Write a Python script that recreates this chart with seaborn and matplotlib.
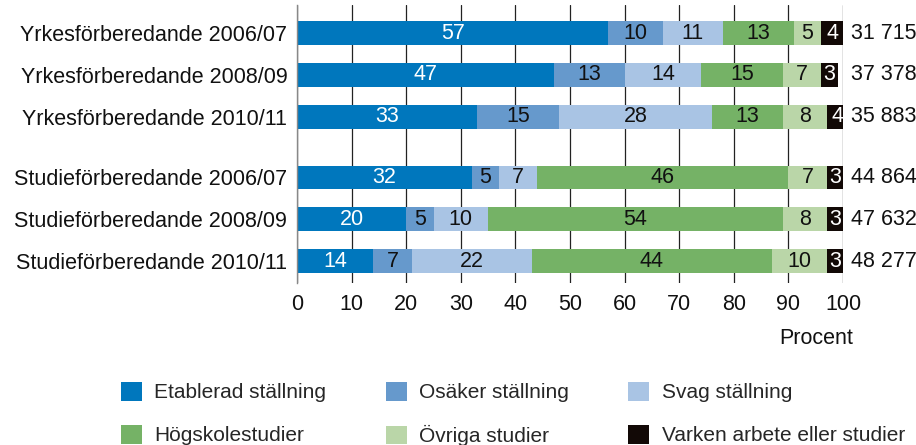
import numpy as np
import pandas as pd
import matplotlib.pyplot as plt
import seaborn as sns
from matplotlib.patches import Patch

# Data
groups = ["Yrkesförberedande 2006/07", "Yrkesförberedande 2008/09", "Yrkesförberedande 2010/11",
          "Studieförberedande 2006/07", "Studieförberedande 2008/09", "Studieförberedande 2010/11"]
etablerad = [57, 47, 33, 32, 20, 14]
osaker = [10, 13, 15, 5, 5, 7]
svag = [11, 14, 28, 7, 10, 22]
hogskola = [13, 15, 13, 46, 54, 44]
ovriga = [5, 7, 8, 7, 8, 10]
varken = [4, 3, 4, 3, 3, 3]
totals = ["31 715", "37 378", "35 883", "44 864", "47 632", "48 277"]
series_names = ["Etablerad ställning", "Osäker ställning", "Svag ställning",
                "Högskolestudier", "Övriga studier", "Varken arbete eller studier"]

colors = ["#0077bd", "#6699cc", "#a9c4e4", "#75b266", "#bad6a8", "#120906"]
text_colors = ["white", "#111111", "#111111", "#111111", "#111111", "white"]
row_pos = [0, 1, 2, 3.45, 4.45, 5.45]

sns.set_theme(style="white")
plt.rcParams['font.family'] = ['Liberation Sans', 'DejaVu Sans']
fs = 15.5

fig = plt.figure(figsize=(9.16, 4.45), dpi=100)
ax = fig.add_axes([297 / 916, 1 - 283 / 445, (843 - 297) / 916, (283 - 5) / 445])

values = np.array([etablerad, osaker, svag, hogskola, ovriga, varken])
cum = np.cumsum(values, axis=0)

# stacked bars: draw cumulative sums from the longest down
for i in reversed(range(len(series_names))):
    df = pd.DataFrame({'pos': row_pos, 'val': cum[i]})
    sns.barplot(data=df, x='val', y='pos', orient='h', native_scale=True,
                color=colors[i], saturation=1, width=0.57, errorbar=None,
                linewidth=0, ax=ax)

# segment labels
for i in range(len(series_names)):
    for j, y in enumerate(row_pos):
        left = cum[i][j] - values[i][j]
        ax.text(left + values[i][j] / 2, y, str(values[i][j]), ha='center', va='center',
                color=text_colors[i], fontsize=fs)

# totals on the right
for j, y in enumerate(row_pos):
    ax.text(101.4, y, totals[j], ha='left', va='center', fontsize=fs, color='#111111', clip_on=False)

ax.set_xlim(0, 100)
ax.set_ylim(5.45 + 0.52, -0.67)
ax.set_xticks(range(0, 101, 10))
ax.set_yticks(row_pos)
ax.set_yticklabels(groups)
ax.set_xlabel("")
ax.set_ylabel("")
ax.tick_params(axis='x', length=0, pad=8, labelsize=fs, labelcolor='#111111')
ax.tick_params(axis='y', length=0, pad=7, labelsize=fs, labelcolor='#111111')
ax.set_axisbelow(True)
ax.xaxis.grid(True, color='#222222', linewidth=0.9)
ax.yaxis.grid(False)
for s in ['top', 'right', 'bottom']:
    ax.spines[s].set_visible(False)
ax.spines['left'].set_color('#888888')
ax.spines['left'].set_linewidth(1)

fig.text(853 / 916, 1 - 339 / 445, "Procent", ha='right', va='center', fontsize=fs, color='#111111')

# legend, reordered so that rows read left to right
handles = [Patch(facecolor=c, edgecolor='none', label=n) for c, n in zip(colors, series_names)]
order = [0, 3, 1, 4, 2, 5]
fig.legend(handles=[handles[k] for k in order], ncol=3, loc='upper left',
           bbox_to_anchor=(121 / 916, 1 - 382 / 445), frameon=False, fontsize=15,
           handlelength=1.0, handleheight=1.0, handletextpad=0.6,
           columnspacing=2.85, labelspacing=1.08, borderpad=0, borderaxespad=0)

fig.savefig("out.png", dpi=100)
